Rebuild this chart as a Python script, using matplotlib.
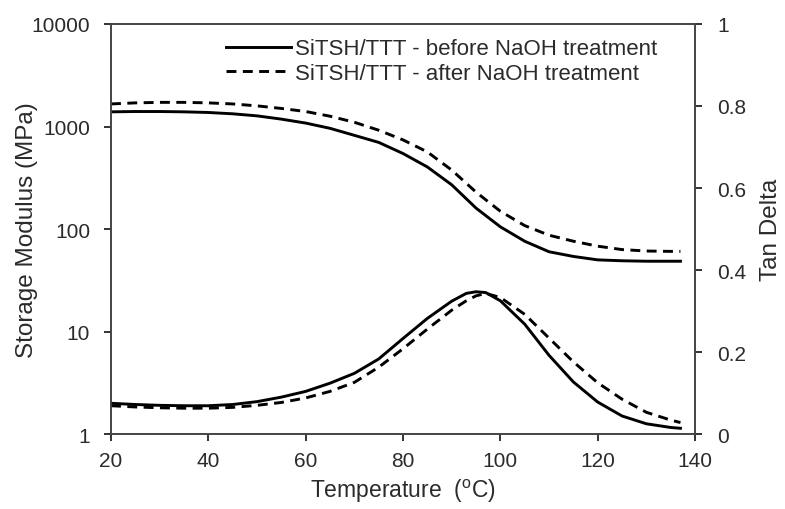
import matplotlib
matplotlib.use("Agg")
import matplotlib.pyplot as plt

plt.rcParams['font.family'] = ['Liberation Sans', 'DejaVu Sans']
plt.rcParams['mathtext.fontset'] = 'custom'
plt.rcParams['mathtext.rm'] = 'Liberation Sans'

# temperature grid (deg C)
temp_mod = [20, 25, 30, 35, 40, 45, 50, 55, 60, 65, 70, 75, 80, 85, 90, 95,
            100, 105, 110, 115, 120, 125, 130, 135, 137]
# storage modulus (MPa)
mod_before = [1390, 1400, 1400, 1390, 1370, 1330, 1270, 1180, 1080, 960, 820, 700,
              545, 403, 270, 160, 105, 76, 60, 54, 50, 49, 48.5, 48.5, 48.5]
mod_after = [1660, 1700, 1720, 1720, 1700, 1660, 1590, 1500, 1400, 1260, 1100, 920,
             740, 565, 376, 229, 149, 108, 87, 76, 68, 63, 61, 60.5, 60.5]

temp_tan = [20, 25, 30, 35, 40, 45, 50, 55, 60, 65, 70, 75, 80, 85, 90, 93, 95,
            97, 100, 105, 110, 115, 120, 125, 130, 135, 137]
tan_before = [0.075, 0.072, 0.070, 0.069, 0.069, 0.072, 0.079, 0.090, 0.104, 0.124,
              0.148, 0.183, 0.233, 0.282, 0.324, 0.343, 0.347, 0.345, 0.325, 0.268,
              0.192, 0.127, 0.078, 0.044, 0.025, 0.016, 0.014]
tan_after = [0.069, 0.066, 0.064, 0.063, 0.063, 0.065, 0.070, 0.077, 0.088, 0.104,
             0.126, 0.163, 0.208, 0.256, 0.302, 0.325, 0.337, 0.343, 0.333, 0.292,
             0.234, 0.176, 0.125, 0.085, 0.053, 0.034, 0.028]

label_before = 'SiTSH/TTT - before NaOH treatment'
label_after = 'SiTSH/TTT - after NaOH treatment'

txt = '#2b2b2b'
dash = (0, (3.4, 2.2))

fig = plt.figure(figsize=(7.85, 5.10), dpi=100)
ax = fig.add_axes([0.1414, 0.147, 0.744, 0.804])
ax2 = ax.twinx()

ax.plot(temp_mod, mod_before, color='black', lw=2.1, label=label_before)
ax.plot(temp_mod, mod_after, color='black', lw=2.1, linestyle=dash, label=label_after)
ax2.plot(temp_tan, tan_before, color='black', lw=2.1)
ax2.plot(temp_tan, tan_after, color='black', lw=2.1, linestyle=dash)

ax.set_yscale('log')
ax.set_ylim(1, 10000)
ax.set_yticks([1, 10, 100, 1000, 10000])
ax.set_yticklabels(['1', '10', '100', '1000', '10000'])
ax.minorticks_off()
ax.set_xlim(20, 140)
ax.set_xticks([20, 40, 60, 80, 100, 120, 140])

ax2.set_ylim(0, 1)
ax2.set_yticks([0, 0.2, 0.4, 0.6, 0.8, 1])
ax2.set_yticklabels(['0', '0.2', '0.4', '0.6', '0.8', '1'])

for a in (ax, ax2):
    a.tick_params(which='major', direction='out', length=5, width=1.4, labelsize=15,
                  color='#333333', labelcolor=txt, pad=10)
    for s in a.spines.values():
        s.set_color('#444444')
        s.set_linewidth(1.2)
ax.tick_params(axis='x', top=False, bottom=True, pad=7)
ax2.tick_params(axis='x', top=False, bottom=False)
ax2.tick_params(axis='y', pad=11)

ax.set_xlabel('Temperature  ($^{\\mathrm{o}}$C)', fontsize=16.5, color=txt, labelpad=5)
ax.set_ylabel('Storage Modulus (MPa)', fontsize=17.5, color=txt, labelpad=-5)
ax2.set_ylabel('Tan Delta', fontsize=17.5, color=txt, labelpad=10)

ax.legend(loc='upper right', frameon=False, fontsize=16, handlelength=2.9,
          handletextpad=0.2, labelspacing=0.15, borderaxespad=0.25,
          bbox_to_anchor=(0.96, 1.0), labelcolor=txt)

fig.savefig('out.png', dpi=100)
